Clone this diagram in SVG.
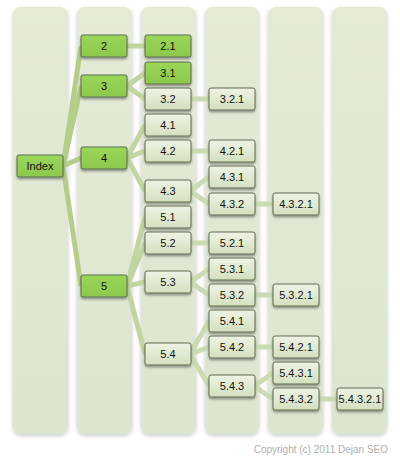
<svg xmlns="http://www.w3.org/2000/svg" width="400" height="460" viewBox="0 0 400 460">
<defs>
<linearGradient id="gG" x1="0" y1="0" x2="0" y2="1"><stop offset="0" stop-color="#9ad65a"/><stop offset="1" stop-color="#8cc84c"/></linearGradient>
<linearGradient id="gL" x1="0" y1="0" x2="0" y2="1"><stop offset="0" stop-color="#eef3e4"/><stop offset="1" stop-color="#d3e0bf"/></linearGradient>
<linearGradient id="gC" x1="0" y1="0" x2="0" y2="1"><stop offset="0" stop-color="#e3ebd7"/><stop offset="1" stop-color="#dce5cf"/></linearGradient>
<filter id="sh" x="-20%" y="-20%" width="140%" height="160%"><feDropShadow dx="0" dy="2" stdDeviation="1.2" flood-color="#000" flood-opacity="0.35"/></filter>
<filter id="csh" x="-10%" y="-5%" width="120%" height="110%"><feDropShadow dx="0" dy="2" stdDeviation="2" flood-color="#000" flood-opacity="0.2"/></filter>
</defs>
<style>
.col{fill:url(#gC);filter:url(#csh)}
.n rect{stroke:#5f6b52;stroke-width:1;filter:url(#sh)}
.g rect{fill:url(#gG)}
.l rect{fill:url(#gL)}
.n text{font-family:"Liberation Sans",Arial,sans-serif;font-size:11px;fill:#111;text-anchor:middle}
.c{fill:none;stroke-linecap:butt}
.c1{stroke:#b4cd88;stroke-width:5}
.c2{stroke:#c0d5a0;stroke-width:5}
.c3{stroke:#cadbb2;stroke-width:5}
.cr{font-family:"Liberation Sans",Arial,sans-serif;font-size:10px;fill:#b0b0b0;text-anchor:end}
</style>
<rect width="400" height="460" fill="#fff"/>
<g id="columns">
<rect class="col" x="13" y="7" width="55" height="427" rx="8"/>
<rect class="col" x="77" y="7" width="55" height="427" rx="8"/>
<rect class="col" x="141" y="7" width="55" height="427" rx="8"/>
<rect class="col" x="205" y="7" width="54" height="427" rx="8"/>
<rect class="col" x="268" y="7" width="55" height="427" rx="8"/>
<rect class="col" x="332" y="7" width="55" height="427" rx="8"/>
</g>
<g id="connectors" class="c">
<line class="c1" x1="63" y1="166" x2="81" y2="46"/>
<line class="c1" x1="63" y1="166" x2="81" y2="86"/>
<line class="c1" x1="63" y1="166" x2="81" y2="158"/>
<line class="c1" x1="63" y1="166" x2="81" y2="286"/>
<line class="c2" x1="127" y1="46" x2="145" y2="46"/>
<line class="c2" x1="127" y1="86" x2="145" y2="73"/>
<line class="c2" x1="127" y1="86" x2="145" y2="99"/>
<line class="c2" x1="127" y1="158" x2="145" y2="125"/>
<line class="c2" x1="127" y1="158" x2="145" y2="151"/>
<line class="c2" x1="127" y1="158" x2="145" y2="191"/>
<line class="c2" x1="127" y1="286" x2="145" y2="217"/>
<line class="c2" x1="127" y1="286" x2="145" y2="243"/>
<line class="c2" x1="127" y1="286" x2="145" y2="282"/>
<line class="c2" x1="127" y1="286" x2="145" y2="354"/>
<line class="c3" x1="190" y1="99" x2="209" y2="99"/>
<line class="c3" x1="190" y1="151" x2="209" y2="151"/>
<line class="c3" x1="190" y1="191" x2="209" y2="177"/>
<line class="c3" x1="190" y1="191" x2="209" y2="204"/>
<line class="c3" x1="190" y1="243" x2="209" y2="243"/>
<line class="c3" x1="190" y1="282" x2="209" y2="269"/>
<line class="c3" x1="190" y1="282" x2="209" y2="295"/>
<line class="c3" x1="190" y1="354" x2="209" y2="321"/>
<line class="c3" x1="190" y1="354" x2="209" y2="347"/>
<line class="c3" x1="190" y1="354" x2="209" y2="386"/>
<line class="c3" x1="254" y1="204" x2="273" y2="204"/>
<line class="c3" x1="254" y1="295" x2="273" y2="295"/>
<line class="c3" x1="254" y1="347" x2="273" y2="347"/>
<line class="c3" x1="254" y1="386" x2="273" y2="373"/>
<line class="c3" x1="254" y1="386" x2="273" y2="399"/>
<line class="c3" x1="318" y1="399" x2="337" y2="399"/>
</g>
<g id="n-index" class="n g"><rect x="17" y="155" width="46" height="22" rx="2"/><text x="40" y="170">Index</text></g>
<g id="n-2" class="n g"><rect x="81" y="35" width="46" height="22" rx="2"/><text x="104" y="50">2</text></g>
<g id="n-3" class="n g"><rect x="81" y="75" width="46" height="22" rx="2"/><text x="104" y="90">3</text></g>
<g id="n-4" class="n g"><rect x="81" y="147" width="46" height="22" rx="2"/><text x="104" y="162">4</text></g>
<g id="n-5" class="n g"><rect x="81" y="275" width="46" height="22" rx="2"/><text x="104" y="290">5</text></g>
<g id="n-2-1" class="n g"><rect x="145" y="35" width="46" height="22" rx="2"/><text x="168" y="50">2.1</text></g>
<g id="n-3-1" class="n g"><rect x="145" y="62" width="46" height="22" rx="2"/><text x="168" y="77">3.1</text></g>
<g id="n-3-2" class="n l"><rect x="145" y="88" width="46" height="22" rx="2"/><text x="168" y="103">3.2</text></g>
<g id="n-4-1" class="n l"><rect x="145" y="114" width="46" height="22" rx="2"/><text x="168" y="129">4.1</text></g>
<g id="n-4-2" class="n l"><rect x="145" y="140" width="46" height="22" rx="2"/><text x="168" y="155">4.2</text></g>
<g id="n-4-3" class="n l"><rect x="145" y="180" width="46" height="22" rx="2"/><text x="168" y="195">4.3</text></g>
<g id="n-5-1" class="n l"><rect x="145" y="206" width="46" height="22" rx="2"/><text x="168" y="221">5.1</text></g>
<g id="n-5-2" class="n l"><rect x="145" y="232" width="46" height="22" rx="2"/><text x="168" y="247">5.2</text></g>
<g id="n-5-3" class="n l"><rect x="145" y="271" width="46" height="22" rx="2"/><text x="168" y="286">5.3</text></g>
<g id="n-5-4" class="n l"><rect x="145" y="343" width="46" height="22" rx="2"/><text x="168" y="358">5.4</text></g>
<g id="n-3-2-1" class="n l"><rect x="209" y="88" width="46" height="22" rx="2"/><text x="232" y="103">3.2.1</text></g>
<g id="n-4-2-1" class="n l"><rect x="209" y="140" width="46" height="22" rx="2"/><text x="232" y="155">4.2.1</text></g>
<g id="n-4-3-1" class="n l"><rect x="209" y="166" width="46" height="22" rx="2"/><text x="232" y="181">4.3.1</text></g>
<g id="n-4-3-2" class="n l"><rect x="209" y="193" width="46" height="22" rx="2"/><text x="232" y="208">4.3.2</text></g>
<g id="n-5-2-1" class="n l"><rect x="209" y="232" width="46" height="22" rx="2"/><text x="232" y="247">5.2.1</text></g>
<g id="n-5-3-1" class="n l"><rect x="209" y="258" width="46" height="22" rx="2"/><text x="232" y="273">5.3.1</text></g>
<g id="n-5-3-2" class="n l"><rect x="209" y="284" width="46" height="22" rx="2"/><text x="232" y="299">5.3.2</text></g>
<g id="n-5-4-1" class="n l"><rect x="209" y="310" width="46" height="22" rx="2"/><text x="232" y="325">5.4.1</text></g>
<g id="n-5-4-2" class="n l"><rect x="209" y="336" width="46" height="22" rx="2"/><text x="232" y="351">5.4.2</text></g>
<g id="n-5-4-3" class="n l"><rect x="209" y="375" width="46" height="22" rx="2"/><text x="232" y="390">5.4.3</text></g>
<g id="n-4-3-2-1" class="n l"><rect x="273" y="193" width="46" height="22" rx="2"/><text x="296" y="208">4.3.2.1</text></g>
<g id="n-5-3-2-1" class="n l"><rect x="273" y="284" width="46" height="22" rx="2"/><text x="296" y="299">5.3.2.1</text></g>
<g id="n-5-4-2-1" class="n l"><rect x="273" y="336" width="46" height="22" rx="2"/><text x="296" y="351">5.4.2.1</text></g>
<g id="n-5-4-3-1" class="n l"><rect x="273" y="362" width="46" height="22" rx="2"/><text x="296" y="377">5.4.3.1</text></g>
<g id="n-5-4-3-2" class="n l"><rect x="273" y="388" width="46" height="22" rx="2"/><text x="296" y="403">5.4.3.2</text></g>
<g id="n-5-4-3-2-1" class="n l"><rect x="337" y="388" width="46" height="22" rx="2"/><text x="360" y="403">5.4.3.2.1</text></g>
<text class="cr" x="388" y="453">Copyright (c) 2011 Dejan SEO</text>
</svg>
